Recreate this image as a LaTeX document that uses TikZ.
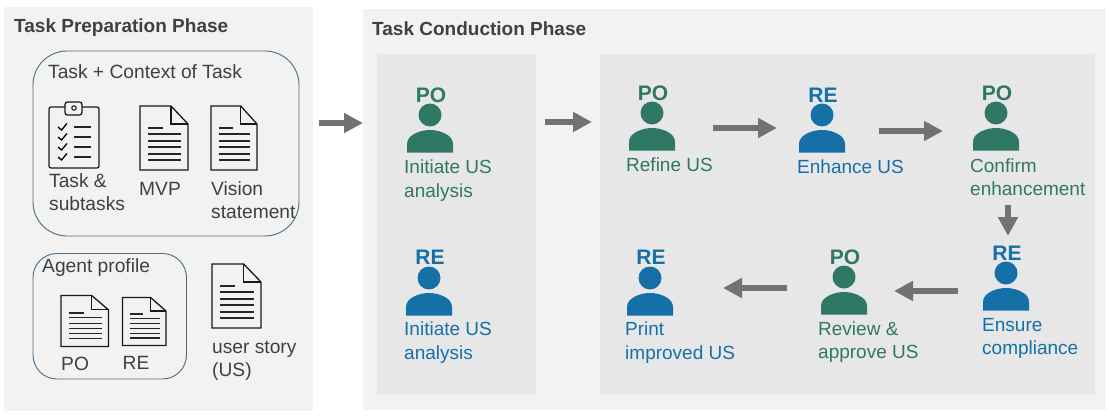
\documentclass[tikz,border=0pt]{standalone}
\usepackage{fontspec}
\setmainfont{Liberation Sans}
\usetikzlibrary{arrows.meta}
\definecolor{pogreen}{HTML}{2F7866}
\definecolor{reblue}{HTML}{1670A8}
\definecolor{txtgray}{HTML}{404040}
\definecolor{panelA}{HTML}{F2F2F2}
\definecolor{panelB}{HTML}{E7E7E7}
\definecolor{arrgray}{HTML}{767171}
\definecolor{boxline}{HTML}{4A6C84}
\tikzset{
  x=1pt,y=-1pt,
  panel/.style={fill=panelA,draw=none},
  inner panel/.style={fill=panelB,draw=none},
  group box/.style={draw=boxline,line width=0.9pt,fill=none},
  phase/.style={font=\bfseries\fontsize{19}{22}\selectfont,text=txtgray,anchor=west,inner sep=0},
  lbl/.style={font=\fontsize{19.2}{23}\selectfont,text=txtgray,anchor=north west,align=left,inner sep=0},
  act/.style={font=\fontsize{19}{23.5}\selectfont,anchor=north west,align=left,inner sep=0},
  role/.style={font=\bfseries\fontsize{21}{24}\selectfont,inner sep=0},
  flow/.style={draw=arrgray,line width=6pt,-{Triangle[length=19pt,width=19pt]},shorten >=0pt},
  pics/person/.style={code={
    \fill[#1] (0,0) circle (11.5);
    \fill[#1] (-23,37.5) -- (-23,29) .. controls (-23,20) and (-10,15) .. (0,15)
      .. controls (10,15) and (23,20) .. (23,29) -- (23,37.5) -- cycle;
  }},
}
% \docicon{x}{y}{w}{h}
\newcommand{\docicon}[4]{%
  \begin{scope}[shift={(#1,#2)},xscale=#3/48,yscale=#4/64]
    \draw[black!90,line width=1.3pt,line join=miter] (0,0) -- (31,0) -- (48,18) -- (48,64) -- (0,64) -- cycle;
    \draw[black!90,line width=1.3pt] (31,0) -- (31,18) -- (48,18);
    \draw[black!85,line width=1.2pt] (8,22) -- (23,22) (8,28) -- (41,28) (8,35) -- (41,35) (8,41) -- (41,41) (8,48) -- (41,48) (8,54) -- (41,54);
  \end{scope}}
\begin{document}
\begin{tikzpicture}
\useasboundingbox (0,0) rectangle (1120,420);
% panels
\fill[panel] (4,7) rectangle (313,411);
\fill[panel] (363,9) rectangle (1106,410);
\fill[inner panel] (377,54) rectangle (536,395);
\fill[inner panel] (600,54) rectangle (1095,395);
\node[phase] (prep) at (14,28) {Task Preparation Phase};
\node[phase] (cond) at (372,29) {Task Conduction Phase};
% group boxes
\draw[group box,rounded corners=34pt] (33,51) rectangle (299,236);
\draw[group box,rounded corners=24pt] (33,253.5) rectangle (186.5,379);
\node[lbl] (ctx) at (48,64) {Task + Context of Task};
\node[lbl] (agent) at (42,258) {Agent profile};
% clipboard
\begin{scope}[shift={(49,101)}]
  \draw[black!90,line width=1.3pt,rounded corners=2pt] (16,6) -- (0,6) -- (0,67) -- (50,67) -- (50,6) -- (33,6);
  \draw[black!90,line width=1.3pt,rounded corners=2.5pt] (16,14) -- (16,1) -- (33,1) -- (33,14) -- cycle;
  \draw[black!90,line width=1.1pt] (25,7) circle (2.2);
  \foreach \yy in {26,36,46,56}{
    \draw[black,line width=1.3pt] (9,\yy) -- (12.5,\yy+3) -- (18,\yy-3.5);
    \draw[black!85,line width=1.3pt] (25,\yy) -- (42,\yy);
  }
\end{scope}
% documents
\docicon{140}{106}{48}{64}
\docicon{211}{106}{46}{64}
\docicon{212}{264}{49}{64}
\docicon{61}{295.5}{47.5}{51}
\docicon{122.5}{297.5}{43.5}{48}
% left labels
\node[lbl] (t1) at (49,173) {Task \&\\subtasks};
\node[lbl] (t2) at (139,182) {MVP};
\node[lbl] (t3) at (211,181) {Vision\\statement};
\node[lbl] (t4) at (61,357) {PO};
\node[lbl] (t5) at (122.5,356) {RE};
\node[lbl] (t6) at (212,341) {user story\\(US)};
% persons
\foreach \nm/\px/\py/\cc/\rr/\ry in {
  a/430/115/pogreen/PO/95,
  b/429/278/reblue/RE/257,
  c/652/113/pogreen/PO/93,
  d/822/115/reblue/RE/95,
  e/996/113/pogreen/PO/93,
  f/1006/273/reblue/RE/253,
  g/844/277/pogreen/PO/257,
  h/650/278/reblue/RE/257}{
  \pic at (\px,\py) {person={\cc}};
  \node[role,text=\cc] (r\nm) at (\px+1,\ry) {\rr};
}
% actions
\node[act,text=pogreen] (aa) at (404,160) {Initiate US\\analysis};
\node[act,text=reblue] (ab) at (404,322) {Initiate US\\analysis};
\node[act,text=pogreen] (ac) at (626,158) {Refine US};
\node[act,text=reblue] (ad) at (797,160) {Enhance US};
\node[act,text=pogreen] (ae) at (970,158.5) {Confirm\\enhancement};
\node[act,text=reblue] (af) at (982,318) {Ensure\\compliance};
\node[act,text=pogreen] (ag) at (818,321.5) {Review \&\\approve US};
\node[act,text=reblue] (ah) at (625,322) {Print\\improved US};
% arrows
\coordinate (s1) at (319,123); \coordinate (e1) at (363,123);
\coordinate (s2) at (545,122); \coordinate (e2) at (592,122);
\coordinate (s3) at (713,128); \coordinate (e3) at (777,128);
\coordinate (s4) at (879,131); \coordinate (e4) at (943,131);
\coordinate (s5) at (1008,205); \coordinate (e5) at (1008,236);
\coordinate (s6) at (958,291); \coordinate (e6) at (894,291);
\coordinate (s7) at (787,288); \coordinate (e7) at (723,288);
\foreach \i in {1,...,7}{\draw[flow] (s\i) -- (e\i);}
\end{tikzpicture}
\end{document}
